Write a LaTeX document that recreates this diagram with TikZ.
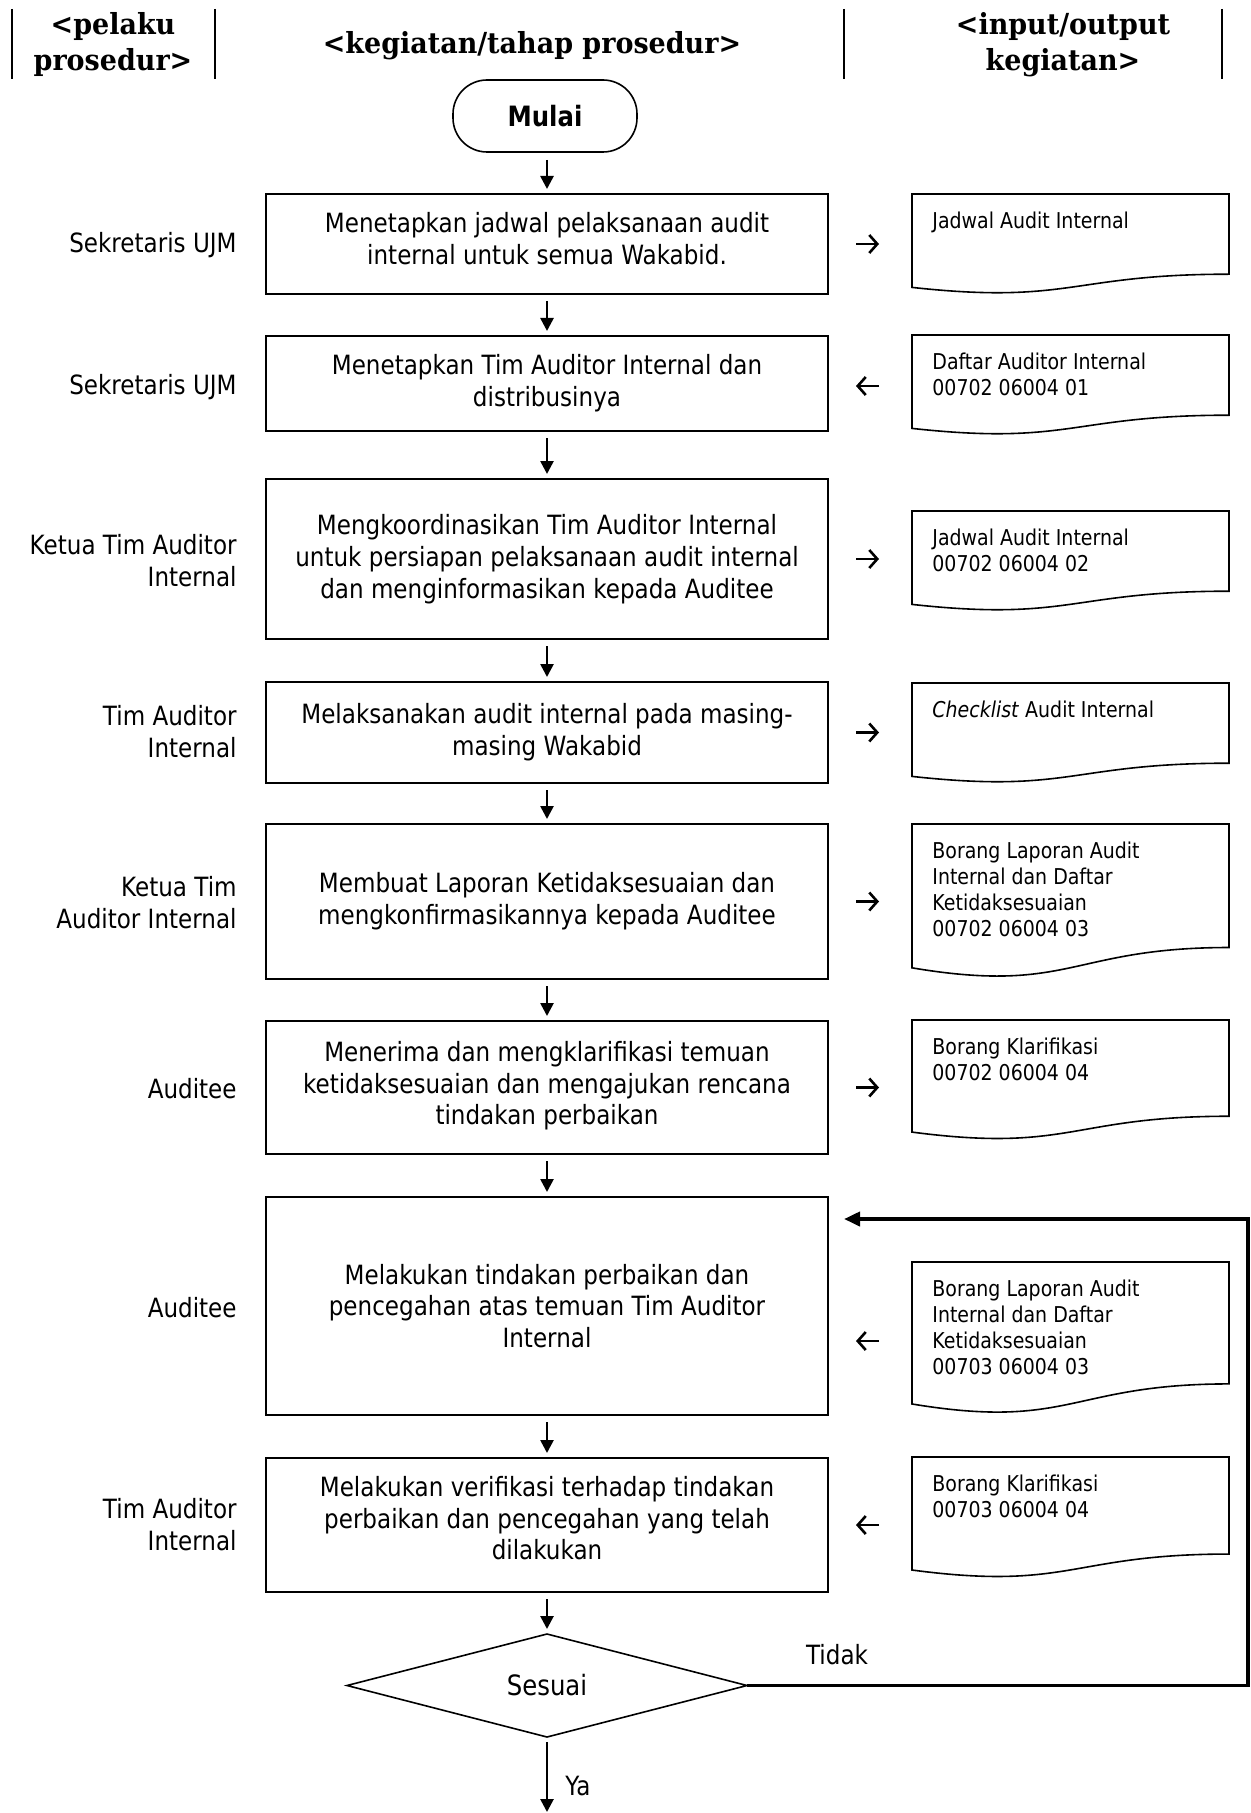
\documentclass[tikz,border=0pt]{standalone}
\usepackage{fontspec}
\setmainfont[FakeStretch=0.87]{DejaVu Sans}
\newfontfamily\hdrfont[FakeStretch=0.93]{DejaVu Serif}
\usetikzlibrary{arrows.meta,shapes.geometric,calc}
\tikzset{
 box/.style={draw, line width=0.8pt, rectangle, minimum width=281pt, inner sep=0pt, outer sep=0pt, align=center, font=\fontsize{13.25}{15.9}\selectfont},
 actor/.style={anchor=east, align=right, inner sep=0pt, font=\fontsize{13.25}{15.9}\selectfont},
 doctext/.style={anchor=north west, align=left, inner sep=0pt, font=\fontsize{10.9}{12.85}\selectfont},
 docline/.style={line width=0.8pt, line join=miter},
 hdr/.style={align=center, inner sep=0pt, font=\hdrfont\bfseries\fontsize{14.5}{18}\selectfont},
 flow/.style={line width=1.3pt, -{Triangle[length=6.5pt,width=6.5pt]}},
 io/.style={line width=1.3pt, -{Straight Barb[length=4pt,width=9pt]}},
 loopline/.style={line width=1.9pt, line join=miter, -{Triangle[length=8pt,width=7pt]}},
 sep/.style={line width=0.8pt},
 lbl/.style={inner sep=0pt, font=\fontsize{13.25}{15.9}\selectfont},
}
\newcommand{\mydocshape}[4]{%
 \draw[docline] (912,#2) -- (1229,#2) -- (1229,{#2+0.802*#3})
   .. controls (1070.5,{#2+0.802*#3}) and (1070.5,{#2+1.1075*#3}) .. (912,{#2+0.934*#3}) -- cycle;
 \node[doctext] (#1) at (932,{#2+18}) {#4};
}
\begin{document}
\begin{tikzpicture}[x=0.5pt,y=-0.5pt]
\useasboundingbox (0,0) rectangle (1250,1813);
% header
\coordinate (s1a) at (12,9);  \coordinate (s1b) at (12,79);
\coordinate (s2a) at (215,9); \coordinate (s2b) at (215,79);
\coordinate (s3a) at (844,9); \coordinate (s3b) at (844,79);
\coordinate (s4a) at (1222,9); \coordinate (s4b) at (1222,79);
\draw[sep] (s1a) -- (s1b);
\draw[sep] (s2a) -- (s2b);
\draw[sep] (s3a) -- (s3b);
\draw[sep] (s4a) -- (s4b);
\node[hdr] (hleft) at (113,44.5) {<pelaku\\prosedur>};
\node[hdr] (hmid) at (532,46) {<kegiatan/tahap prosedur>};
\node[hdr] (hright) at (1063,44.5) {<input/output\\kegiatan>};

% start
\node[draw, line width=0.8pt, rounded corners=17pt, minimum width=92pt, minimum height=36pt, inner sep=0pt, font=\bfseries\fontsize{14}{16}\selectfont] (mulai) at (545,116) {Mulai};

% main boxes
\node[box, minimum height=50pt, text depth=5.5pt] (b1) at (547,244) {Menetapkan jadwal pelaksanaan audit\\internal untuk semua Wakabid.};
\node[box, minimum height=47.5pt] (b2) at (547,383.5) {Menetapkan Tim Auditor Internal dan\\distribusinya};
\node[box, minimum height=80pt] (b3) at (547,559) {Mengkoordinasikan Tim Auditor Internal\\untuk persiapan pelaksanaan audit internal\\dan menginformasikan kepada Auditee};
\node[box, minimum height=50.5pt] (b4) at (547,732.5) {Melaksanakan audit internal pada masing-\\masing Wakabid};
\node[box, minimum height=77.5pt] (b5) at (547,901.5) {Membuat Laporan Ketidaksesuaian dan\\mengkonfirmasikannya kepada Auditee};
\node[box, minimum height=66.5pt, text depth=4.5pt] (b6) at (547,1087.5) {Menerima dan mengklarifikasi temuan\\ketidaksesuaian dan mengajukan rencana\\tindakan perbaikan};
\node[box, minimum height=109pt] (b7) at (547,1306) {Melakukan tindakan perbaikan dan\\pencegahan atas temuan Tim Auditor\\Internal};
\node[box, minimum height=67pt, text depth=7pt] (b8) at (547,1525) {Melakukan verifikasi terhadap tindakan\\perbaikan dan pencegahan yang telah\\dilakukan};
\node[draw, line width=0.8pt, diamond, minimum width=200pt, minimum height=51.5pt, inner sep=0pt, outer sep=0pt, font=\fontsize{14}{16}\selectfont] (dia) at (547,1685.5) {Sesuai};

% actors
\node[actor] (a1) at (237,245) {Sekretaris UJM};
\node[actor] (a2) at (237,387) {Sekretaris UJM};
\node[actor] (a3) at (237,561) {Ketua Tim Auditor\\Internal};
\node[actor] (a4) at (237,732) {Tim Auditor\\Internal};
\node[actor] (a5) at (237,903) {Ketua Tim\\Auditor Internal};
\node[actor] (a6) at (237,1089) {Auditee};
\node[actor] (a7) at (237,1308) {Auditee};
\node[actor] (a8) at (237,1525) {Tim Auditor\\Internal};

% documents
\mydocshape{d1}{194}{100}{Jadwal Audit Internal}
\mydocshape{d2}{335}{100}{Daftar Auditor Internal\\00702 06004 01}
\mydocshape{d3}{511}{100}{Jadwal Audit Internal\\00702 06004 02}
\mydocshape{d4}{683}{100}{\textit{Checklist} Audit Internal}
\mydocshape{d5}{824}{154}{Borang Laporan Audit\\Internal dan Daftar\\Ketidaksesuaian\\00702 06004 03}
\mydocshape{d6}{1020}{120}{Borang Klarifikasi\\00702 06004 04}
\mydocshape{d7}{1262}{152}{Borang Laporan Audit\\Internal dan Daftar\\Ketidaksesuaian\\00703 06004 03}
\mydocshape{d8}{1457}{121}{Borang Klarifikasi\\00703 06004 04}

% vertical flow arrows
\foreach \a/\b in {mulai/b1,b1/b2,b2/b3,b3/b4,b4/b5,b5/b6,b6/b7,b7/b8,b8/dia}
  \draw[flow] ($(\b.north |- \a.south)+(0,7)$) -- ($(\b.north)+(0,-5)$);

% input/output arrows
\draw[io] ($(b1.east)+(28,0)$) -- ($(b1.east)+(51,0)$);
\draw[io] ($(b2.east)+(51,2.5)$) -- ($(b2.east)+(28,2.5)$);
\draw[io] ($(b3.east)+(28,0)$) -- ($(b3.east)+(51,0)$);
\draw[io] ($(b4.east)+(28,0)$) -- ($(b4.east)+(51,0)$);
\draw[io] ($(b5.east)+(28,0)$) -- ($(b5.east)+(51,0)$);
\draw[io] ($(b6.east)+(28,0)$) -- ($(b6.east)+(51,0)$);
\draw[io] ($(b7.east)+(51,35)$) -- ($(b7.east)+(28,35)$);
\draw[io] ($(b8.east)+(51,0)$) -- ($(b8.east)+(28,0)$);

% decision outputs
\coordinate (loopin) at (844,1219);
\coordinate (loopx) at (1248,0);
\draw[loopline] (dia.east) -- (dia.east -| loopx) -- (loopx |- loopin) -- (loopin);
\node[lbl] (tidak) at (837,1655) {Tidak};
\coordinate (endpt) at (547,1812);
\draw[flow] ($(dia.south)+(0,5)$) -- (endpt);
\node[lbl] (ya) at (578,1786) {Ya};
\end{tikzpicture}
\end{document}
